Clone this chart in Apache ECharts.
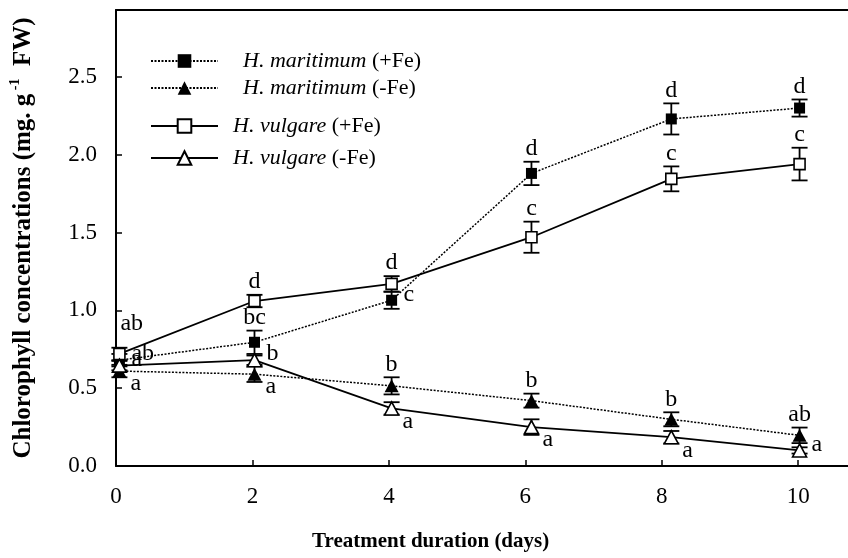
<!DOCTYPE html>
<html>
<head>
<meta charset="utf-8">
<script src="https://cdn.jsdelivr.net/npm/echarts@6/dist/echarts.min.js"></script>
<style>html,body{margin:0;padding:0;background:#fff}#c{width:848px;height:558px}</style>
</head>
<body>
<div id="c"></div>
<script>
// ---- data ----
var days = [0.05, 2.03, 4.04, 6.09, 8.14, 10.02];
var xTicks = [0, 2, 4, 6, 8, 10];
var yTicks = [0, 0.5, 1.0, 1.5, 2.0, 2.5];
var seriesNames = ['H. maritimum (+Fe)', 'H. maritimum (-Fe)', 'H. vulgare (+Fe)', 'H. vulgare (-Fe)'];
var hmPlus  = [0.68, 0.795, 1.065, 1.88, 2.23, 2.30];
var hmMinus = [0.61, 0.59, 0.515, 0.42, 0.30, 0.197];
var hvPlus  = [0.72, 1.06, 1.17, 1.47, 1.845, 1.94];
var hvMinus = [0.645, 0.68, 0.37, 0.25, 0.185, 0.10];
var hmPlusErr  = [0.04, 0.075, 0.055, 0.075, 0.10, 0.055];
var hmMinusErr = [0.04, 0.05, 0.055, 0.045, 0.045, 0.05];
var hvPlusErr  = [0.04, 0.04, 0.05, 0.10, 0.08, 0.105];
var hvMinusErr = [0.03, 0.03, 0.04, 0.05, 0.04, 0.02];
var hmPlusLet  = ['ab', 'bc', 'c', 'd', 'd', 'd'];
var hmMinusLet = ['a', 'a', 'b', 'b', 'b', 'ab'];
var hvPlusLet  = ['ab', 'd', 'd', 'c', 'c', 'c'];
var hvMinusLet = ['a', 'b', 'a', 'a', 'a', 'a'];

// ---- styling (label placement codes) ----
var hmPlusPlace  = ['r', 't', 'r', 't', 't', 't'];
var hmMinusPlace = ['br', 'br', 't', 't', 't', 't'];
var hvPlusPlace  = ['tr', 't', 't', 't', 't', 't'];
var hvMinusPlace = ['r', 'r', 'br', 'br', 'br', 'r'];

var FONT = '"Liberation Serif", "Times New Roman", serif';

function pairs(xs, ys) { return xs.map(function (x, i) { return [x, ys[i]]; }); }
function triples(xs, ys, es) { return xs.map(function (x, i) { return [x, ys[i], es[i]]; }); }

function errSeries(ys, es, letters, places) {
  return {
    type: 'custom',
    z: 1,
    silent: true,
    data: triples(days, ys, es),
    renderItem: function (params, api) {
      var x = api.value(0), y = api.value(1), e = api.value(2);
      var p = api.coord([x, y]);
      var t = api.coord([x, y + e]);
      var b = api.coord([x, y - e]);
      var cw = 8;
      var ls = { stroke: '#000', lineWidth: 1.8 };
      var i = params.dataIndex;
      var pl = places[i];
      var tx, ty, al = 'left', va = 'middle';
      if (pl === 't') { tx = p[0]; ty = t[1] - 1; al = 'center'; va = 'bottom'; }
      else if (pl === 'tr') { tx = p[0] + 1; ty = t[1] - 24; }
      else if (pl === 'r') { tx = p[0] + 12; ty = p[1] - 6; }
      else { tx = p[0] + 11; ty = p[1] + 13; }
      return {
        type: 'group',
        children: [
          { type: 'line', shape: { x1: p[0], y1: t[1], x2: p[0], y2: b[1] }, style: ls },
          { type: 'line', shape: { x1: p[0] - cw, y1: t[1], x2: p[0] + cw, y2: t[1] }, style: ls },
          { type: 'line', shape: { x1: p[0] - cw, y1: b[1], x2: p[0] + cw, y2: b[1] }, style: ls },
          { type: 'text', style: { text: letters[i], x: tx, y: ty, align: al, verticalAlign: va,
              fill: '#000', fontSize: 24, fontFamily: FONT } }
        ]
      };
    }
  };
}

function lineSeries(name, ys, dotted, symbol, filled, size) {
  return {
    name: name,
    type: 'line',
    z: 3,
    data: pairs(days, ys),
    symbol: symbol,
    symbolSize: size,
    showAllSymbol: true,
    lineStyle: { color: '#000', width: dotted ? 1.5 : 1.8, type: dotted ? [2, 1.5] : 'solid' },
    itemStyle: { color: filled ? '#000' : '#fff', borderColor: '#000', borderWidth: filled ? 0 : 1.6 }
  };
}

var legendTops = [45, 72, 110, 142];
var legendPad = [20, 20, 10, 10];
var legends = seriesNames.map(function (n, i) {
  return {
    data: [n],
    left: 145,
    top: legendTops[i],
    itemWidth: 67,
    itemHeight: 17,
    selectedMode: false,
    formatter: function (name) {
      var k = name.indexOf(' (');
      return '{i|' + name.slice(0, k) + '} {n|' + name.slice(k + 1) + '}';
    },
    textStyle: {
      color: '#000', fontSize: 22, fontFamily: FONT, padding: [0, 0, 0, legendPad[i]],
      rich: {
        i: { fontStyle: 'italic', fontSize: 22, fontFamily: FONT, color: '#000' },
        n: { fontSize: 22, fontFamily: FONT, color: '#000' }
      }
    }
  };
});

var chart = echarts.init(document.getElementById('c'), null, { renderer: 'canvas' });
chart.setOption({
  animation: false,
  backgroundColor: '#fff',
  grid: { left: 111, right: 0, top: 10, bottom: 92 },
  legend: legends,
  xAxis: [{
    type: 'value', min: 0, max: 10.73, interval: 2,
    axisLine: { lineStyle: { color: '#000', width: 2 } },
    axisTick: { inside: true, length: 6, lineStyle: { color: '#000', width: 1.5 } },
    axisLabel: { color: '#000', fontSize: 23, fontFamily: FONT, margin: 19, showMaxLabel: false,
      formatter: function (v) { return xTicks.indexOf(v) >= 0 ? String(v) : ''; } },
    splitLine: { show: false }
  }, {
    type: 'value', position: 'top', min: 0, max: 10.73,
    axisLine: { show: true, lineStyle: { color: '#000', width: 2 } },
    axisTick: { show: false }, axisLabel: { show: false }, splitLine: { show: false }
  }],
  yAxis: {
    type: 'value', min: 0, max: 2.93, interval: 0.5,
    name: '{t|Chlorophyll concentrations (mg. g}{s| -1}{t|  FW)}',
    nameLocation: 'middle', nameRotate: 90, nameGap: 80,
    nameTextStyle: {
      rich: {
        t: { fontSize: 25, fontWeight: 'bold', fontFamily: FONT, color: '#000', lineHeight: 28, verticalAlign: 'bottom' },
        s: { fontSize: 14, fontWeight: 'bold', fontFamily: FONT, color: '#000', lineHeight: 28, verticalAlign: 'top' }
      }
    },
    axisLine: { show: true, lineStyle: { color: '#000', width: 2 } },
    axisTick: { inside: true, length: 6, lineStyle: { color: '#000', width: 1.5 } },
    axisLabel: { color: '#000', fontSize: 23, fontFamily: FONT, margin: 19, showMaxLabel: false,
      formatter: function (v) { return yTicks.indexOf(v) >= 0 ? v.toFixed(1) : ''; } },
    splitLine: { show: false }
  },
  graphic: [{
    type: 'text', left: 312, top: 531,
    style: { text: 'Treatment duration (days)', fill: '#000', fontSize: 21, fontWeight: 'bold', fontFamily: FONT }
  }],
  series: [
    errSeries(hmPlus, hmPlusErr, hmPlusLet, hmPlusPlace),
    errSeries(hmMinus, hmMinusErr, hmMinusLet, hmMinusPlace),
    errSeries(hvPlus, hvPlusErr, hvPlusLet, hvPlusPlace),
    errSeries(hvMinus, hvMinusErr, hvMinusLet, hvMinusPlace),
    lineSeries(seriesNames[0], hmPlus, true, 'rect', true, 11),
    lineSeries(seriesNames[1], hmMinus, true, 'triangle', true, [14, 13]),
    lineSeries(seriesNames[2], hvPlus, false, 'rect', false, 11),
    lineSeries(seriesNames[3], hvMinus, false, 'triangle', false, [14, 13])
  ]
});
</script>
</body>
</html>
